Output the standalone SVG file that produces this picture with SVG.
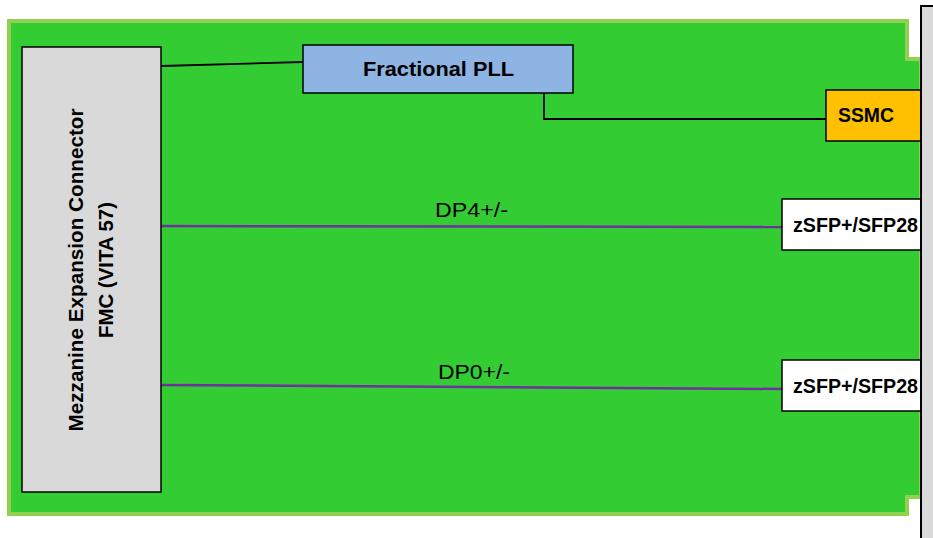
<svg xmlns="http://www.w3.org/2000/svg" width="933" height="538" viewBox="0 0 933 538">
<style>
.lbl{font-family:"Liberation Sans",Arial,sans-serif;font-size:21px;font-weight:bold;fill:#000;text-anchor:middle}
.dp{font-family:"Liberation Sans",Arial,sans-serif;font-size:21px;fill:#000;text-anchor:middle}
.box{stroke:#000;stroke-width:1.5}
.wire{fill:none;stroke:#000;stroke-width:1.8}
.diff{fill:none;stroke:#7030A0;stroke-width:2.5}
</style>
<rect x="0" y="0" width="933" height="538" fill="#fff"/>
<g id="board">
<polygon points="9,21 907,21 907,59 921,59 921,497 907,497 907,514 9,514" fill="#33CC33" stroke="#92D050" stroke-width="4"/>
</g>
<g id="connectors">
<line class="wire" x1="161" y1="66" x2="303" y2="62"/>
<polyline class="wire" points="544,93 544,119 826,119"/>
<line class="diff" x1="161" y1="226" x2="782" y2="227"/>
<line class="diff" x1="161" y1="385" x2="782" y2="389"/>
</g>
<g id="dp4-label"><text class="dp" x="471.5" y="217" textLength="73" lengthAdjust="spacingAndGlyphs">DP4+/-</text></g>
<g id="dp0-label"><text class="dp" x="474" y="379" textLength="72" lengthAdjust="spacingAndGlyphs">DP0+/-</text></g>
<g id="fmc">
<rect class="box" x="22" y="47" width="139" height="445" fill="#D9D9D9" stroke-width="2"/>
<text class="lbl" transform="translate(83,270) rotate(-90)" textLength="323" lengthAdjust="spacingAndGlyphs">Mezzanine Expansion Connector</text>
<text class="lbl" transform="translate(113,270) rotate(-90)" textLength="136" lengthAdjust="spacingAndGlyphs">FMC (VITA 57)</text>
</g>
<g id="pll">
<rect class="box" x="303" y="45" width="270" height="48" fill="#8EB4E3" stroke-width="1.2"/>
<text class="lbl" x="438.5" y="76" textLength="151" lengthAdjust="spacingAndGlyphs">Fractional PLL</text>
</g>
<g id="ssmc">
<rect class="box" x="826" y="90" width="95" height="51" fill="#FFC000"/>
<text class="lbl" x="866" y="122" textLength="56" lengthAdjust="spacingAndGlyphs">SSMC</text>
</g>
<g id="sfp1">
<rect class="box" x="782" y="199" width="139" height="51" fill="#fff"/>
<text class="lbl" x="855.5" y="232" textLength="125" lengthAdjust="spacingAndGlyphs">zSFP+/SFP28</text>
</g>
<g id="sfp2">
<rect class="box" x="782" y="360" width="139" height="51" fill="#fff"/>
<text class="lbl" x="855.5" y="393" textLength="125" lengthAdjust="spacingAndGlyphs">zSFP+/SFP28</text>
</g>
<g id="panel">
<rect x="921" y="6" width="30" height="550" fill="#D9D9D9" stroke="#000" stroke-width="2"/>
</g>
</svg>
